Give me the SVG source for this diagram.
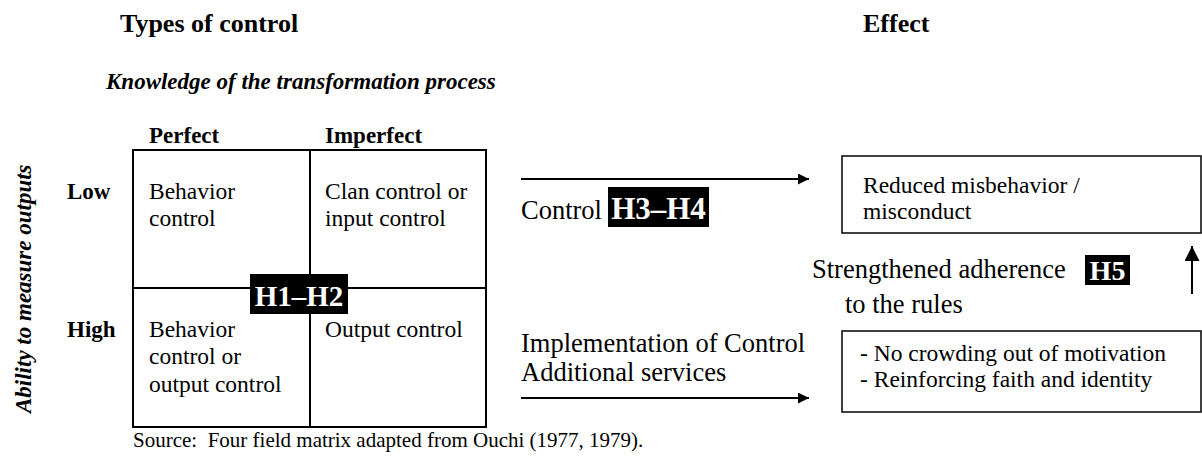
<svg xmlns="http://www.w3.org/2000/svg" width="1202" height="457" viewBox="0 0 1202 457">
<style>
text{font-family:"Liberation Serif","Times New Roman",serif;fill:#000}
.t{font-size:26px;font-weight:bold}
.ax{font-size:23px;font-weight:bold;font-style:italic}
.hd{font-size:23px;font-weight:bold}
.c{font-size:23.5px}
.lb{font-size:26.5px}
.h{font-weight:bold;fill:#fff}
.src{font-size:21px;white-space:pre}
.ln{stroke:#000;stroke-width:2;fill:none}
.bx{stroke:#111;stroke-width:1.6;fill:#fff}
</style>
<defs>
<marker id="ah" viewBox="0 0 10 10" refX="10" refY="5" markerWidth="8.5" markerHeight="5.5" markerUnits="strokeWidth" orient="auto">
<path d="M0,0 L10,5 L0,10 z" fill="#000"/>
</marker>
<marker id="ahv" viewBox="0 0 10 10" refX="10" refY="5" markerWidth="7.5" markerHeight="7.5" markerUnits="strokeWidth" orient="auto">
<path d="M0,0 L10,5 L0,10 z" fill="#000"/>
</marker>
</defs>
<g id="titles">
<text class="t" x="120" y="32">Types of control</text>
<text class="t" x="863" y="32">Effect</text>
<text class="ax" x="106" y="89">Knowledge of the transformation process</text>
<text class="ax" transform="translate(31,413) rotate(-90)" x="0" y="0">Ability to measure outputs</text>
<text class="hd" x="149" y="143">Perfect</text>
<text class="hd" x="325" y="143">Imperfect</text>
<text class="hd" x="67" y="199">Low</text>
<text class="hd" x="67" y="337">High</text>
</g>
<g id="matrix">
<rect class="ln" x="133" y="150" width="353" height="277"/>
<line class="ln" x1="310" y1="150" x2="310" y2="427"/>
<line class="ln" x1="133" y1="288" x2="486" y2="288"/>
<text class="c" x="149" y="199">Behavior</text>
<text class="c" x="149" y="226">control</text>
<text class="c" x="325" y="199">Clan control or</text>
<text class="c" x="325" y="226">input control</text>
<text class="c" x="149" y="337">Behavior</text>
<text class="c" x="149" y="364">control or</text>
<text class="c" x="325" y="337">Output control</text>
<text class="c" x="149" y="392">output control</text>
</g>
<g id="h12">
<rect x="250" y="274" width="98" height="40" fill="#000"/>
<text class="h" x="299" y="306" font-size="29" text-anchor="middle">H1–H2</text>
</g>
<g id="source">
<text class="src" x="133" y="447">Source:  Four field matrix adapted from Ouchi (1977, 1979).</text>
</g>
<g id="connectors">
<line class="ln" x1="521" y1="179" x2="809" y2="179" marker-end="url(#ah)"/>
<line class="ln" x1="521" y1="398" x2="809" y2="398" marker-end="url(#ah)"/>
<line class="ln" x1="1192" y1="294" x2="1192" y2="246" marker-end="url(#ahv)"/>
</g>
<g id="label-control">
<text class="lb" x="521" y="219">Control</text>
<rect x="608" y="187" width="101" height="40" fill="#000"/>
<text class="h" x="658.5" y="219" font-size="31" text-anchor="middle">H3–H4</text>
</g>
<g id="label-impl">
<text class="lb" x="521" y="352">Implementation of Control</text>
<text class="lb" x="521" y="381">Additional services</text>
</g>
<g id="label-strength">
<text class="lb" x="812" y="278">Strengthened adherence</text>
<text class="lb" x="845" y="313">to the rules</text>
<rect x="1085" y="255" width="45" height="30" fill="#000"/>
<text class="h" x="1107.5" y="280" font-size="28" text-anchor="middle">H5</text>
</g>
<g id="box-reduced">
<rect class="bx" x="842" y="156" width="359" height="77"/>
<text class="c" x="863" y="193">Reduced misbehavior /</text>
<text class="c" x="863" y="219">misconduct</text>
</g>
<g id="box-motivation">
<rect class="bx" x="842" y="331" width="359" height="81"/>
<text class="c" x="860" y="361">- No crowding out of motivation</text>
<text class="c" x="860" y="387">- Reinforcing faith and identity</text>
</g>
</svg>
